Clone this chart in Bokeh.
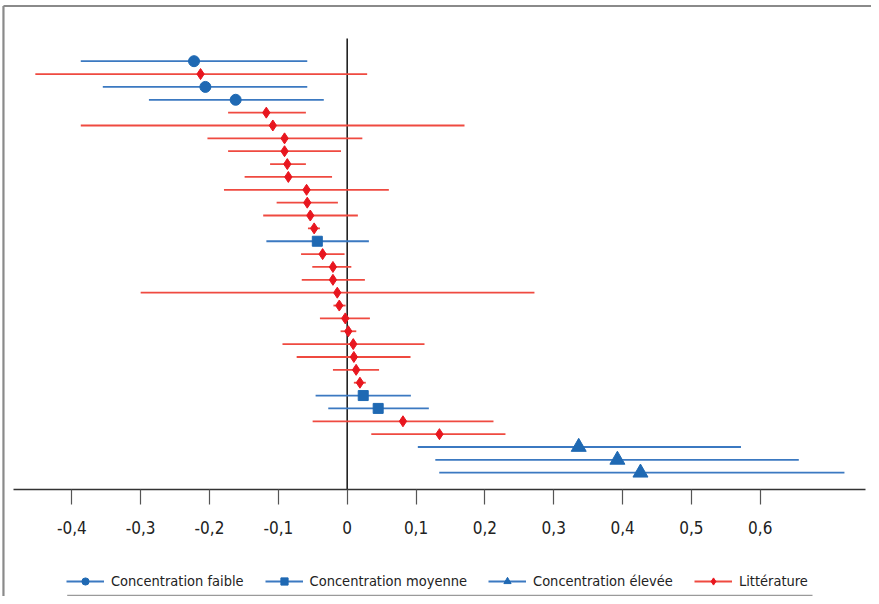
from bokeh.plotting import figure
from bokeh.models import Range1d, LinearAxis, FixedTicker, Legend, LegendItem, ColumnDataSource
from bokeh.embed import file_html
from bokeh.resources import INLINE

# ---- data (one row per study / estimate, top to bottom) ----
series = ["faible", "lit", "faible", "faible", "lit", "lit", "lit", "lit", "lit", "lit",
          "lit", "lit", "lit", "lit", "moyenne", "lit", "lit", "lit", "lit", "lit",
          "lit", "lit", "lit", "lit", "lit", "lit", "moyenne", "moyenne", "lit", "lit",
          "elevee", "elevee", "elevee"]
estimate = [-0.2225, -0.213, -0.206, -0.162, -0.1175, -0.108, -0.091, -0.091, -0.087, -0.0855,
            -0.059, -0.058, -0.0536, -0.048, -0.0434, -0.0357, -0.0207, -0.0207, -0.0144, -0.0115,
            -0.0028, 0.0016, 0.0088, 0.0097, 0.013, 0.0185, 0.0233, 0.045, 0.081, 0.134,
            0.3363, 0.3925, 0.426]
ci_low = [-0.387, -0.453, -0.355, -0.288, -0.173, -0.387, -0.203, -0.173, -0.112, -0.149,
          -0.179, -0.1025, -0.122, -0.057, -0.1174, -0.067, -0.0507, -0.066, -0.300, -0.020,
          -0.0396, -0.0096, -0.094, -0.0734, -0.0207, 0.0097, -0.0459, -0.0275, -0.0502, 0.035,
          0.1026, 0.128, 0.1337]
ci_high = [-0.058, 0.029, -0.058, -0.034, -0.060, 0.1704, 0.022, -0.009, -0.060, -0.022,
           0.0605, -0.0135, 0.0155, -0.0396, 0.0315, -0.0038, 0.006, 0.0257, 0.272, -0.0023,
           0.033, 0.0132, 0.1123, 0.092, 0.0463, 0.027, 0.0925, 0.1186, 0.2125, 0.2299,
           0.572, 0.656, 0.7223]
tick_values = [-0.4, -0.3, -0.2, -0.1, 0.0, 0.1, 0.2, 0.3, 0.4, 0.5, 0.6]
tick_labels = ["-0,4", "-0,3", "-0,2", "-0,1", "0", "0,1", "0,2", "0,3", "0,4", "0,5", "0,6"]
series_keys = ["faible", "moyenne", "elevee", "lit"]
series_names = ["Concentration faible", "Concentration moyenne", "Concentration élevée", "Littérature"]

# ---- styles ----
BLUE = "#1f69b3"
BLUE_LINE = "#3b79c1"
RED = "#e8161f"
RED_LINE = "#ef4a40"
styles = {
    "faible": dict(marker="circle", size=11, color=BLUE, line=BLUE_LINE),
    "moyenne": dict(marker="square", size=10, color=BLUE, line=BLUE_LINE),
    "elevee": dict(marker="triangle", size=15, color=BLUE, line=BLUE_LINE),
    "lit": dict(marker="diamond", size=11, color=RED, line=RED_LINE),
}
FONT = "'DejaVu Sans Condensed', 'DejaVu Sans', sans-serif"

rows = list(range(1, len(series) + 1))

W, H = 871, 596
p = figure(width=W, height=H, output_backend="svg", toolbar_location=None,
           x_axis_location=None, y_axis_location=None,
           x_range=Range1d(-0.5036, 0.7616), y_range=Range1d(42.625, -3.720),
           min_border=0, min_border_left=0, min_border_right=0,
           min_border_top=0, min_border_bottom=0)
p.grid.visible = False
p.outline_line_color = None
p.background_fill_color = "white"
p.border_fill_color = "white"

# frame lines (top / left)
p.segment(x0=[-0.4993, -0.4993], y0=[-3.292, -3.292], x1=[0.7616, -0.4993], y1=[-3.292, 42.625],
          line_color="#8a8a8a", line_width=2.2)

# zero reference line
p.segment(x0=[0.0], y0=[-0.765], x1=[0.0], y1=[34.27], line_color="#222222", line_width=1.6)

legend_items = []
for key, name in zip(series_keys, series_names):
    idx = [i for i, s in enumerate(series) if s == key]
    src = ColumnDataSource(dict(
        y=[rows[i] for i in idx],
        est=[estimate[i] for i in idx],
        lo=[ci_low[i] for i in idx],
        hi=[ci_high[i] for i in idx],
    ))
    st = styles[key]
    seg = p.segment(x0="lo", y0="y", x1="hi", y1="y", source=src,
                    line_color=st["line"], line_width=1.8)
    sc = p.scatter(x="est", y="y", source=src, marker=st["marker"], size=st["size"],
                   fill_color=st["color"], line_color=st["color"], line_width=1)
    legend_items.append(LegendItem(label=name, renderers=[seg, sc]))

# x axis drawn at a fixed data position
axis = LinearAxis(fixed_location=34.27, ticker=FixedTicker(ticks=tick_values),
                  bounds=(-0.4847, 0.7529))
axis.major_label_overrides = {v: l for v, l in zip(tick_values, tick_labels)}
axis.axis_line_color = "#333333"
axis.axis_line_width = 1.6
axis.major_tick_line_color = "#555555"
axis.major_tick_line_width = 1.2
axis.major_tick_out = 15
axis.major_tick_in = 0
axis.minor_tick_out = 0
axis.minor_tick_in = 0
axis.major_label_standoff = 17
axis.major_label_text_font = FONT
axis.major_label_text_font_size = "17px"
axis.major_label_text_color = "#222222"
p.add_layout(axis, "below")

# legend underline
p.segment(x0=[-0.4067], y0=[42.55], x1=[0.6759], y1=[42.55], line_color="#9a9a9a", line_width=1.5)

legend = Legend(items=legend_items, orientation="horizontal", location=(66, 6),
                label_text_font=FONT, label_text_font_size="14.5px", label_text_color="#222222",
                glyph_width=38, glyph_height=18, label_height=18, label_standoff=7,
                spacing=21, padding=0, margin=0,
                border_line_alpha=0, background_fill_alpha=0)
p.add_layout(legend, "center")

open("out.html", "w").write(file_html(p, INLINE))
